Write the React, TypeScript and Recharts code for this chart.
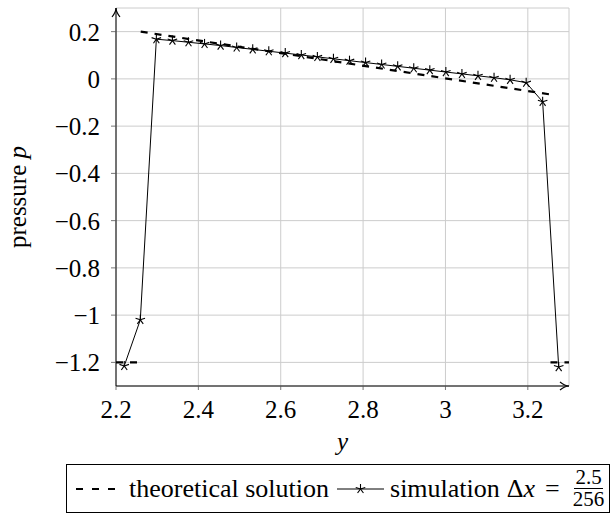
import React from 'react';
import { LineChart, Line, XAxis, YAxis, CartesianGrid, ReferenceDot, Legend } from 'recharts';

// simulation Δx = 2.5/256 (every output point)
const simY = [2.220, 2.259, 2.298, 2.337, 2.376, 2.415, 2.454, 2.493, 2.532, 2.571, 2.611, 2.650, 2.689, 2.728,
  2.767, 2.806, 2.845, 2.884, 2.923, 2.962, 3.001, 3.040, 3.079, 3.118, 3.157, 3.196, 3.236, 3.275];
const simP = [-1.215, -1.02, 0.168, 0.162, 0.155, 0.148, 0.141, 0.133, 0.125, 0.117, 0.109, 0.101, 0.093, 0.085,
  0.077, 0.069, 0.061, 0.053, 0.045, 0.037, 0.029, 0.021, 0.013, 0.005, -0.004, -0.016, -0.097, -1.22];

// theoretical solution (null = jump, not drawn)
const theoY = [2.2, 2.26, 2.26, 2.26, 3.255, 3.255, 3.255, 3.3];
const theoP: (number | null)[] = [-1.2, -1.2, null, 0.2, -0.066, null, -1.2, -1.2];

const xTicks = [2.2, 2.4, 2.6, 2.8, 3, 3.2];
const yTicks = [0.2, 0, -0.2, -0.4, -0.6, -0.8, -1, -1.2];

const simData = simY.map((y, i) => ({ y, p: simP[i] }));
const theoData = theoY.map((y, i) => ({ y, p: theoP[i] }));

const FONT = 'Liberation Serif';
const FS = 25;
const LFS = 26;

const fmt = (v: number) => String(v).replace('-', '\u2212');

const Star = (props: any) => {
  const { cx, cy, index } = props;
  if (cx == null || cy == null) return <g key={`s-${index}`} />;
  const r = 5;
  const arms = [90, 162, 234, 306, 18].map((a) => {
    const rad = (a * Math.PI) / 180;
    return [cx + r * Math.cos(rad), cy - r * Math.sin(rad)];
  });
  return (
    <g key={`s-${index}`}>
      {arms.map(([x, y], k) => (
        <line key={k} x1={cx} y1={cy} x2={x} y2={y} stroke="#000" strokeWidth={1.1} />
      ))}
    </g>
  );
};

const ArrowRight = (props: any) => {
  const { cx, cy } = props;
  if (cx == null) return <g />;
  const t = cx;
  return <path d={`M${t - 9},${cy - 4} Q${t - 4},${cy} ${t},${cy} Q${t - 4},${cy} ${t - 9},${cy + 4}`} stroke="#000" strokeWidth={1.2} fill="none" />;
};

const ArrowUp = (props: any) => {
  const { cx, cy } = props;
  if (cx == null) return <g />;
  const t = cy;
  return <path d={`M${cx - 4},${t + 9} Q${cx},${t + 4} ${cx},${t} Q${cx},${t + 4} ${cx + 4},${t + 9}`} stroke="#000" strokeWidth={1.2} fill="none" />;
};

const XLabel = (props: any) => {
  const vb = props.viewBox || {};
  return (
    <text x={vb.x + vb.width / 2} y={vb.y + 64} textAnchor="middle" style={{ fontFamily: FONT }} fontSize={FS} fontStyle="italic" fill="#000">
      y
    </text>
  );
};

const YLabel = (props: any) => {
  const vb = props.viewBox || {};
  const cx = 17;
  const cy = vb.y + vb.height / 2;
  return (
    <text x={cx} y={cy} transform={`rotate(-90 ${cx} ${cy})`} textAnchor="middle" dominantBaseline="central" style={{ fontFamily: FONT }} fontSize={FS} fill="#000">
      pressure <tspan fontStyle="italic">p</tspan>
    </text>
  );
};

const LegendBox = () => (
  <div
    style={{
      boxSizing: 'border-box',
      width: '100%',
      height: '100%',
      border: '1px solid #000',
      display: 'flex',
      alignItems: 'center',
      fontFamily: FONT,
      fontSize: LFS,
      color: '#000',
      whiteSpace: 'nowrap',
      paddingLeft: 9,
    }}
  >
    <svg width={40} height={10} style={{ display: 'block' }}>
      <line x1={0} y1={5} x2={40} y2={5} stroke="#000" strokeWidth={2} strokeDasharray="7 9" />
    </svg>
    <span style={{ marginLeft: 13 }}>theoretical solution</span>
    <svg width={47} height={14} style={{ display: 'block', marginLeft: 8 }}>
      <line x1={0} y1={7} x2={47} y2={7} stroke="#000" strokeWidth={1} />
      <Star cx={23.5} cy={7} index={0} />
    </svg>
    <span style={{ marginLeft: 6 }}>simulation</span>
    <span style={{ marginLeft: 7 }}>
      {'\u0394'}
      <i>x</i>
    </span>
    <span style={{ marginLeft: 10, marginRight: 13 }}>=</span>
    <span style={{ display: 'inline-flex', flexDirection: 'column', alignItems: 'center', fontSize: 21, lineHeight: '19px' }}>
      <span style={{ borderBottom: '1px solid #000', padding: '0 1px 1px' }}>2.5</span>
      <span style={{ paddingTop: 1 }}>256</span>
    </span>
  </div>
);

export default function App() {
  return (
    <div style={{ position: 'absolute', left: 0, top: 0, width: 612, height: 515, background: '#fff', fontFamily: FONT }}>
      <LineChart width={612} height={515} margin={{ top: 8, right: 43, left: 0, bottom: 59 }} style={{ overflow: 'visible', fontFamily: FONT }}>
        <CartesianGrid stroke="#cccccc" strokeWidth={1} />
        <XAxis
          type="number"
          dataKey="y"
          domain={[2.2, 3.3]}
          ticks={xTicks}
          allowDataOverflow
          height={70}
          tickFormatter={fmt}
          tick={{ fontFamily: FONT, fontSize: FS, fill: '#000', style: { fontFamily: FONT } }}
          tickLine={{ stroke: '#555', strokeWidth: 0.8 }}
          tickSize={4}
          tickMargin={10}
          axisLine={{ stroke: '#000', strokeWidth: 1 }}
          label={<XLabel />}
        />
        <YAxis
          type="number"
          dataKey="p"
          domain={[-1.3, 0.3]}
          ticks={yTicks}
          allowDataOverflow
          width={116}
          tickFormatter={fmt}
          tick={{ fontFamily: FONT, fontSize: FS, fill: '#000', style: { fontFamily: FONT } }}
          tickLine={{ stroke: '#555', strokeWidth: 0.8 }}
          tickSize={5}
          tickMargin={11}
          axisLine={{ stroke: '#000', strokeWidth: 1 }}
          label={<YLabel />}
        />
        <Line
          data={theoData}
          dataKey="p"
          stroke="#000"
          strokeWidth={2.2}
          strokeDasharray="7 7"
          dot={false}
          connectNulls={false}
          isAnimationActive={false}
          legendType="none"
        />
        <Line
          data={simData}
          dataKey="p"
          stroke="#000"
          strokeWidth={1}
          dot={(p: any) => <Star {...p} />}
          isAnimationActive={false}
          legendType="none"
        />
        <ReferenceDot x={3.3} y={-1.3} r={0} ifOverflow="visible" shape={<ArrowRight />} />
        <ReferenceDot x={2.2} y={0.3} r={0} ifOverflow="visible" shape={<ArrowUp />} />
        <Legend
          layout="horizontal"
          verticalAlign="middle"
          align="center"
          content={() => <LegendBox />}
          wrapperStyle={{ position: 'absolute', left: 66, top: 464, width: 544, height: 49 }}
        />
      </LineChart>
    </div>
  );
}
